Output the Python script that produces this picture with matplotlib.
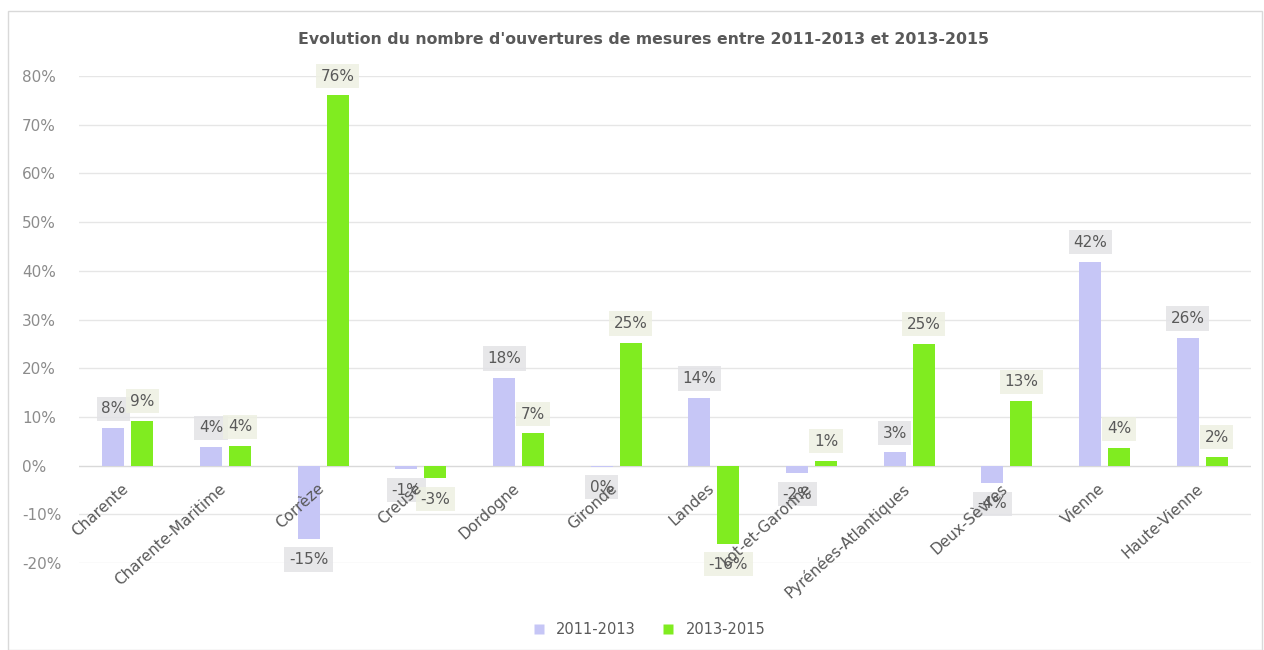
import matplotlib
matplotlib.use("Agg")
import matplotlib.pyplot as plt
from matplotlib.patches import Rectangle
from matplotlib.lines import Line2D
import numpy as np

departements = ["Charente", "Charente-Maritime", "Corrèze", "Creuse", "Dordogne",
                "Gironde", "Landes", "Lot-et-Garonne", "Pyrénées-Atlantiques",
                "Deux-Sèvres", "Vienne", "Haute-Vienne"]
evol_2011_2013 = [7.7, 3.8, -15.0, -0.8, 18.0, -0.2, 13.9, -1.6, 2.7, -3.6, 41.9, 26.2]
evol_2013_2015 = [9.2, 4.0, 76.0, -2.6, 6.6, 25.2, -16.0, 1.0, 25.0, 13.2, 3.6, 1.8]
series_names = ["2011-2013", "2013-2015"]
y_ticks = [-20, -10, 0, 10, 20, 30, 40, 50, 60, 70, 80]

col_a = "#C6C6F6"
col_b = "#80EC20"
box_a = "#E3E3E6"
box_b = "#EEF0E2"
txt = "#595959"
grid = "#E6E6E6"
font = "DejaVu Sans"

W, H = 1264, 650
fig = plt.figure(figsize=(W / 100, H / 100), dpi=100)
fig.patch.set_facecolor("white")
fig.patches.append(Rectangle((8 / W, 0.5 / H), (W - 10) / W, (H - 11) / H,
                             transform=fig.transFigure, fill=False,
                             edgecolor="#D9D9D9", linewidth=1.0))

ax = fig.add_axes([79 / W, 1 - 563 / H, (1251 - 79) / W, (563 - 76) / H])
ax.set_facecolor("white")
ax.set_xlim(-0.5, len(departements) - 0.5)
ax.set_ylim(-20, 80)
for s in ax.spines.values():
    s.set_visible(False)
ax.set_yticks(y_ticks)
ax.set_yticklabels([f"{v}%" for v in y_ticks], fontsize=11, color="#8C8C8C",
                   family=font)
ax.tick_params(axis="y", length=0, pad=41)
for lab in ax.get_yticklabels():
    lab.set_horizontalalignment("left")
ax.set_xticks([])
for v in y_ticks:
    ax.axhline(v, color="#D9D9D9" if v == 0 else grid, linewidth=1.0, zorder=0)

x = np.arange(len(departements))
bw = 0.225
off = 0.148
ax.bar(x - off, evol_2011_2013, width=bw, color=col_a, zorder=2)
ax.bar(x + off, evol_2013_2015, width=bw, color=col_b, zorder=2)

# category names, rotated, hanging below the zero line
for i, name in enumerate(departements):
    ax.annotate(name, xy=(i, 0), xytext=(-1, -15), textcoords="offset points",
                ha="right", va="center", rotation=42, rotation_mode="anchor",
                fontsize=11, color=txt, family=font, zorder=5)

# data labels in boxes at the outer end of each bar
def label_bars(xs, vals, boxcol):
    for xi, v in zip(xs, vals):
        dy = 14 if v >= 0 else -15
        ax.annotate(f"{round(v)}%", xy=(xi, v), xytext=(0, dy),
                    textcoords="offset points", ha="center", va="center",
                    fontsize=11, color=txt, family=font, zorder=4,
                    bbox=dict(boxstyle="square,pad=0.3", facecolor=boxcol,
                              edgecolor="none", alpha=0.85))

label_bars(x - off, evol_2011_2013, box_a)
label_bars(x + off, evol_2013_2015, box_b)

fig.text(0.509, 1 - 40 / H,
         "Evolution du nombre d'ouvertures de mesures entre 2011-2013 et 2013-2015",
         ha="center", va="center", fontsize=11.3, color="#595959", family=font,
         fontweight="semibold")

handles = [Line2D([], [], marker="s", linestyle="none", markersize=7,
                  markerfacecolor=c, markeredgecolor="none") for c in (col_a, col_b)]
fig.legend(handles, series_names, loc="center", bbox_to_anchor=(0.51, 1 - 630 / H),
           ncol=2, frameon=False, labelcolor="#595959", handletextpad=0.2,
           columnspacing=1.2, prop={"family": font, "size": 10.5})

fig.savefig("out.png", dpi=100, facecolor="white")
